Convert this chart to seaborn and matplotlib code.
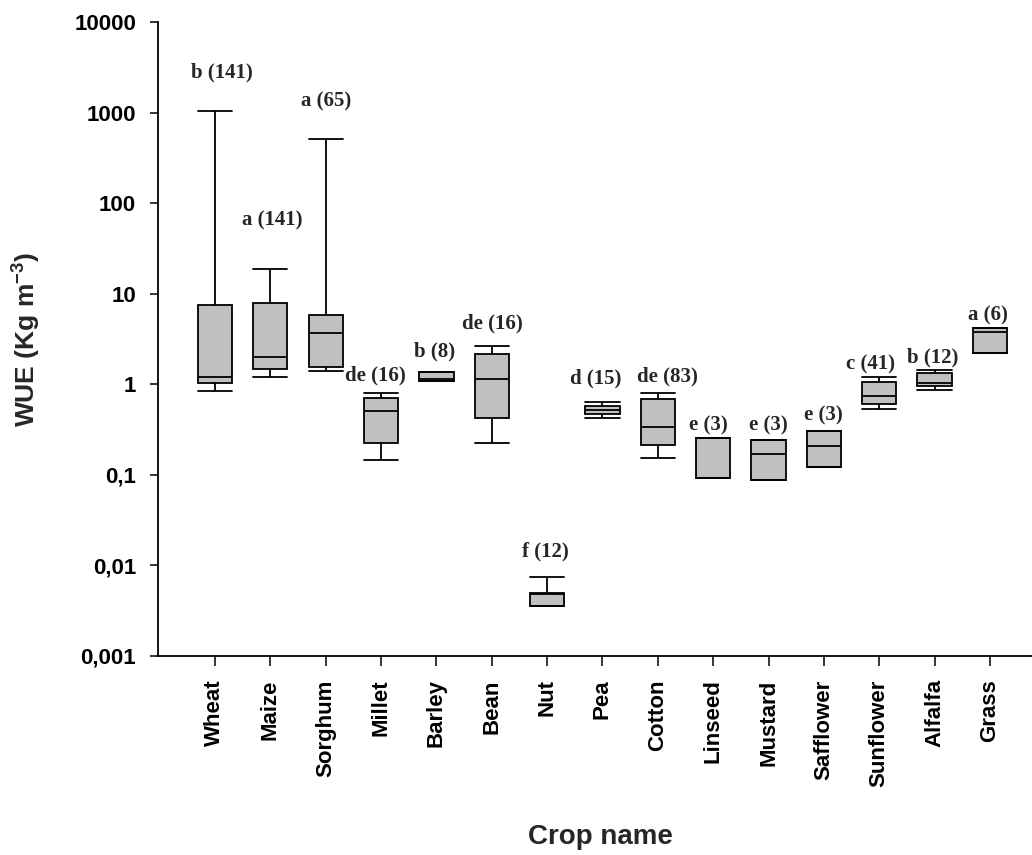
import numpy as np
import pandas as pd
import matplotlib
matplotlib.use("Agg")
import matplotlib.pyplot as plt
from matplotlib.ticker import NullLocator
import seaborn as sns

# ---------------- data ----------------
crops = ["Wheat", "Maize", "Sorghum", "Millet", "Barley", "Bean", "Nut", "Pea",
         "Cotton", "Linseed", "Mustard", "Safflower", "Sunflower", "Alfalfa", "Grass"]
whisker_low = [0.843, 1.20, 1.39, 0.146, 1.096, 0.223, 0.0035, 0.425,
               0.155, 0.093, 0.0885, 0.122, 0.53, 0.871, 2.22]
q1 = [1.025, 1.46, 1.54, 0.223, 1.096, 0.42, 0.0035, 0.466,
      0.212, 0.093, 0.0885, 0.122, 0.605, 0.965, 2.22]
median = [1.21, 2.02, 3.66, 0.51, 1.13, 1.14, 0.0048, 0.52,
          0.335, 0.253, 0.169, 0.21, 0.748, 1.025, 3.75]
q3 = [7.6, 7.9, 5.82, 0.70, 1.38, 2.16, 0.0049, 0.575,
      0.687, 0.253, 0.243, 0.305, 1.05, 1.32, 4.18]
whisker_high = [1050, 18.9, 507, 0.794, 1.38, 2.65, 0.0075, 0.643,
                0.794, 0.253, 0.243, 0.305, 1.20, 1.45, 4.18]
group_letters = ["b", "a", "a", "de", "b", "de", "f", "d", "de", "e", "e", "e", "c", "b", "a"]
n_obs = [141, 141, 65, 16, 8, 16, 12, 15, 83, 3, 3, 3, 41, 12, 6]
label_y = [2806, 65, 1343, 1.24, 2.29, 4.75, 0.0142, 1.16, 1.21, 0.346, 0.346, 0.447, 1.66, 1.99, 5.82]
label_dx = [0.12, 0.04, 0.0, -0.11, -0.04, 0.01, -0.04, -0.13, 0.17, -0.08, 0.0, 0.0, -0.16, -0.04, -0.03]
ytick_values = [0.001, 0.01, 0.1, 1, 10, 100, 1000, 10000]
ytick_labels = ["0,001", "0,01", "0,1", "1", "10", "100", "1000", "10000"]

# five values per crop -> quartiles of those five values are exactly the box stats
rows = []
for c, a, b, m, d, e in zip(crops, whisker_low, q1, median, q3, whisker_high):
    for v in (a, b, m, d, e):
        rows.append({"Crop": c, "WUE": v})
df = pd.DataFrame(rows)

# ---------------- figure ----------------
sns.set_style("ticks")
plt.rcParams["font.family"] = ["Liberation Sans", "DejaVu Sans"]
plt.rcParams["mathtext.fontset"] = "custom"
plt.rcParams["mathtext.rm"] = "Liberation Sans:bold"
plt.rcParams["mathtext.bf"] = "Liberation Sans:bold"
plt.rcParams["mathtext.it"] = "Liberation Sans:bold"

W, H = 1032, 855
fig = plt.figure(figsize=(W / 100, H / 100), dpi=100)
ax = fig.add_axes([158.3 / W, 1 - 655.7 / H, (W - 158.3) / W, (655.7 - 22.3) / H])

sns.boxplot(data=df, x="Crop", y="WUE", order=crops, ax=ax,
            whis=(0, 100), width=0.62, color="#c0c0c0", saturation=1,
            linecolor="black", linewidth=1.3, log_scale=True,
            capwidths=0.62)

ax.set_xlim(-1.024, 14.76)
ax.set_ylim(1e-3, 1e4)
ax.set_yticks(ytick_values)
ax.set_yticklabels(ytick_labels)
ax.yaxis.set_minor_locator(NullLocator())

for s in ("top", "right"):
    ax.spines[s].set_visible(False)
for s in ("left", "bottom"):
    ax.spines[s].set_linewidth(1.3)
    ax.spines[s].set_color("black")

ax.tick_params(axis="y", length=6, width=1.1, pad=10, labelsize=16, colors="black")
ax.tick_params(axis="x", length=7, width=1.1, pad=10, labelsize=16, colors="black",
               labelrotation=90)
for lab in ax.get_xticklabels() + ax.get_yticklabels():
    lab.set_fontweight("bold")

ax.set_ylabel("WUE (Kg m$^{-3}$)", fontsize=19, fontweight="bold")
ax.yaxis.set_label_coords((43 - 158.3) / (W - 158.3), 0.50)
ax.set_xlabel("Crop name", fontsize=20, fontweight="bold")
ax.xaxis.set_label_coords((600 - 158.3) / (W - 158.3), (655.7 - 837) / (655.7 - 22.3))
ax.xaxis.label.set_verticalalignment("center")

for i, (g, n, yv, dx) in enumerate(zip(group_letters, n_obs, label_y, label_dx)):
    ax.text(i + dx, yv, f"{g} ({n})", ha="center", va="center", fontsize=15,
            fontweight="bold", family=["Liberation Serif", "DejaVu Serif"])

fig.savefig("out.png", dpi=100)
